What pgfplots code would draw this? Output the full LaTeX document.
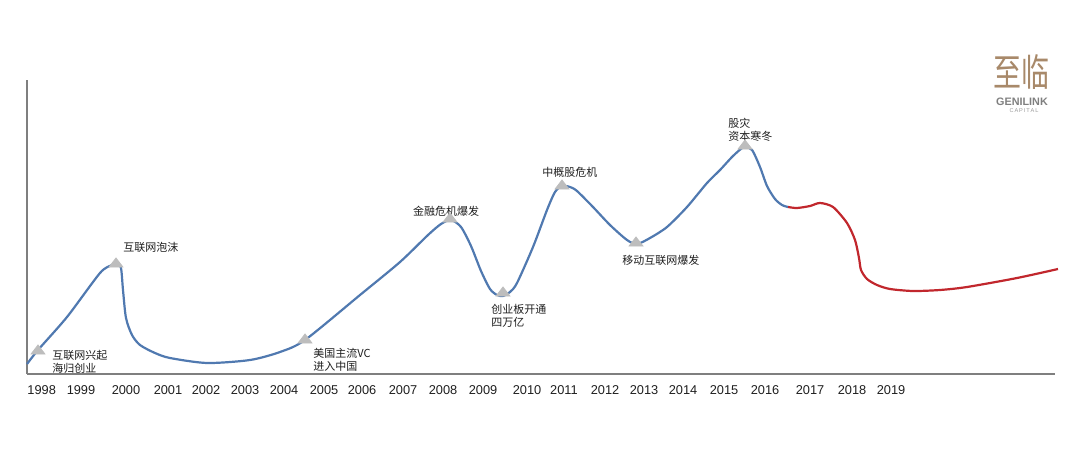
\documentclass[border=0pt]{standalone}
\usepackage{pgfplots}
\pgfplotsset{compat=1.18}
\usepackage{fontspec}
\setmainfont{Liberation Sans}
\newfontfamily\cjk{Noto Sans CJK SC}
\definecolor{lineblue}{HTML}{5079B0}
\definecolor{linered}{HTML}{C1272D}
\definecolor{axgray}{HTML}{7F7F7F}
\definecolor{txt}{HTML}{1E1E1E}
\definecolor{logo}{HTML}{A8896A}
\definecolor{tri}{HTML}{BDBDBD}
\begin{document}
\begin{tikzpicture}
\useasboundingbox (0,0) rectangle (540pt,225.5pt);
\begin{axis}[
  at={(13.5pt,38.5pt)}, anchor=south west,
  x=0.5pt, y=0.5pt,
  xmin=27, xmax=1055, ymin=77, ymax=371,
  axis x line*=bottom, axis y line*=left,
  axis line style={axgray, line width=0.7pt, -},
  ytick=\empty,
  xtick={41.7,81,126,168,206,245,284,324,362,403,443,483,527,564,605,644,683,724,765,810,852,891},
  xticklabels={1998,1999,2000,2001,2002,2003,2004,2005,2006,2007,2008,2009,2010,2011,2012,2013,2014,2015,2016,2017,2018,2019},
  major tick length=0pt,
  xticklabel style={anchor=center, yshift=-8pt, font=\fontsize{6.4}{7}\selectfont, text=txt},
  clip=false,
]
\addplot[lineblue, line width=1.1pt, smooth, tension=0.45] coordinates {
(27,87) (38,101) (67,134) (100,178) (112,186) (117,188) (121,183) (123,161)
(126,133) (132,116) (140,106) (155,98) (170,93) (207,88) (250,91) (280,99)
(305,111) (360,156) (400,189) (428,216) (441,227) (451,231) (461,224) (471,205)
(481,180) (490,162) (497,156) (503,155) (510,159) (517,168) (533,204) (547,241)
(555,259) (562,265) (570,264) (577,260) (593,244) (610,226) (627,211) (637,207)
(650,213) (667,224) (687,244) (707,268) (720,281) (733,295) (744,304) (752,301)
(760,284) (767,265) (775,252) (782,246) (788,244)
};
\addplot[linered, line width=1.1pt, smooth, tension=0.45] coordinates {
(788,244) (797,243) (810,245) (820,248) (833,244) (847,228) (855,211) (859,193)
(861,181) (867,172) (877,166) (890,162) (913,160) (940,161) (967,164) (1017,173)
(1058,182)
};
\addplot[only marks, mark=triangle*, mark size=4pt,
  mark options={fill=tri, draw=tri, yscale=0.75}] coordinates {
(38,100) (116,187) (305,111) (450,232) (503,158) (562,265) (636,208) (745,305)
};
\begin{scope}[every node/.style={text=txt, font=\cjk\fontsize{5.5}{6.5}\selectfont, align=left, inner sep=0pt}]
\node[anchor=west] at (axis cs:52,89.5) {互联网兴起\\海归创业};
\node[anchor=west] at (axis cs:123,204) {互联网泡沫};
\node[anchor=west] at (axis cs:313,91.5) {美国主流VC\\进入中国};
\node[anchor=center] at (axis cs:446,240) {金融危机爆发};
\node[anchor=west] at (axis cs:491,135) {创业板开通\\四万亿};
\node[anchor=west] at (axis cs:542,279) {中概股危机};
\node[anchor=west] at (axis cs:622,191) {移动互联网爆发};
\node[anchor=west] at (axis cs:728,321.5) {股灾\\资本寒冬};
\end{scope}
\node[text=logo, font=\cjk\fontsize{14}{14}\selectfont, inner sep=0pt, yscale=1.35] at (axis cs:1021,379) {至临};
\node[text=axgray, font=\bfseries\fontsize{5.4}{6}\selectfont, inner sep=0pt] at (axis cs:1022,349) {GENILINK};
\node[text=axgray!80, font=\fontsize{2.8}{3}\selectfont, inner sep=0pt] at (axis cs:1024,340) {C\,A\,P\,I\,T\,A\,L};
\end{axis}
\end{tikzpicture}
\end{document}
